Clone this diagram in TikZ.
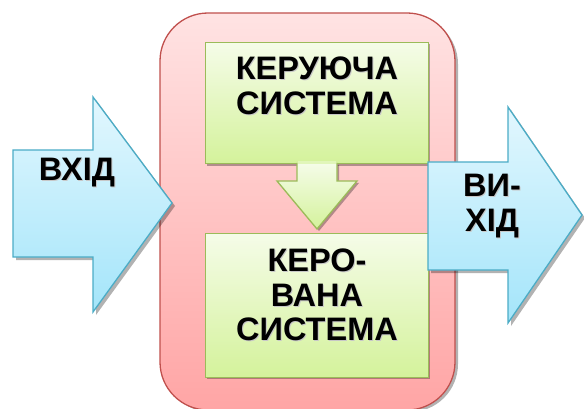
\documentclass[tikz,border=0pt]{standalone}
\usepackage{fontspec}
\setmainfont{Liberation Sans}
\definecolor{blueTop}{HTML}{E2F7FE}
\definecolor{blueBot}{HTML}{A4E5FA}
\definecolor{blueLine}{HTML}{4BACC6}
\definecolor{greenTop}{HTML}{F5FCE8}
\definecolor{greenBot}{HTML}{D4F29B}
\definecolor{greenLine}{HTML}{9BBB59}
\definecolor{redTop}{HTML}{FFE3E3}
\definecolor{redBot}{HTML}{FFA5A5}
\definecolor{redLine}{HTML}{C0504D}
\tikzset{
  bluearrow/.style={draw=blueLine, line width=1.3pt, top color=blueTop, bottom color=blueBot},
  greenbox/.style={draw=greenLine, line width=1.3pt, top color=greenTop, bottom color=greenBot},
  redpanel/.style={draw=redLine, line width=1.3pt, top color=redTop, bottom color=redBot},
  dropshadow/.style={fill=black, opacity=0.3},
  label/.style={font=\fontsize{32.5}{34.5}\selectfont\bfseries, align=center, inner sep=0pt},
  labelshadow/.style={label, text=black!22},
}
% a label with a soft offset shadow underneath
\newcommand{\shadowlabel}[3]{%
  \node[labelshadow] at ([shift={(1pt,-1pt)}]#2) {#3};
  \node[label] (#1) at (#2) {#3};
}
\begin{document}
\begin{tikzpicture}[x=1pt,y=-1pt]
\useasboundingbox (0,0) rectangle (584,409);

% system panel
\fill[dropshadow, rounded corners=48pt] (163,16) rectangle (458,412);
\path[redpanel, rounded corners=48pt] (160,13) rectangle (455,410);

% input arrow
\fill[dropshadow] ([shift={(3,3)}]13,150) -- ++(80,0) -- ++(0,-53) -- ++(79,106) -- ++(-79,109) -- ++(0,-55) -- ++(-80,0) -- cycle;
\path[bluearrow] (13,150) -- (93,150) -- (93,97) -- (172,203) -- (93,312) -- (93,257) -- (13,257) -- cycle;

% controlling system
\fill[dropshadow] (207,44) rectangle (430,166);
\node[greenbox, minimum width=223pt, minimum height=121pt, anchor=north west, inner sep=0pt] (ctrl) at (205,42) {};

% link arrow between the two blocks
\fill[dropshadow] (299,165) -- (339,165) -- (339,183) -- (359,183) -- (319,231) -- (279,183) -- (299,183) -- cycle;
\path[greenbox] (297,163) -- (297,181) -- (277,181) -- (317,229) -- (357,181) -- (337,181) -- (337,163);
\fill[greenTop!40!greenBot] (298,161) rectangle (336,164);

% controlled system
\fill[dropshadow] (207,235) rectangle (430,379);
\node[greenbox, minimum width=223pt, minimum height=144pt, anchor=north west, inner sep=0pt] (plant) at (205,233) {};

% output arrow
\fill[dropshadow] ([shift={(3,3)}]428,162) -- ++(80,0) -- ++(0,-55) -- ++(74,108) -- ++(-74,108) -- ++(0,-53) -- ++(-80,0) -- cycle;
\path[bluearrow] (428,162) -- (508,162) -- (508,107) -- (582,215) -- (508,323) -- (508,270) -- (428,270) -- cycle;

% labels
\shadowlabel{inLbl}{77,173}{ВХІД}
\shadowlabel{ctrlLbl}{317,86}{КЕРУЮЧА\\СИСТЕМА}
\shadowlabel{plantLbl}{317,295}{КЕРО-\\ВАНА\\СИСТЕМА}
\shadowlabel{outLbl}{492,206}{ВИ-\\ХІД}
\end{tikzpicture}
\end{document}
